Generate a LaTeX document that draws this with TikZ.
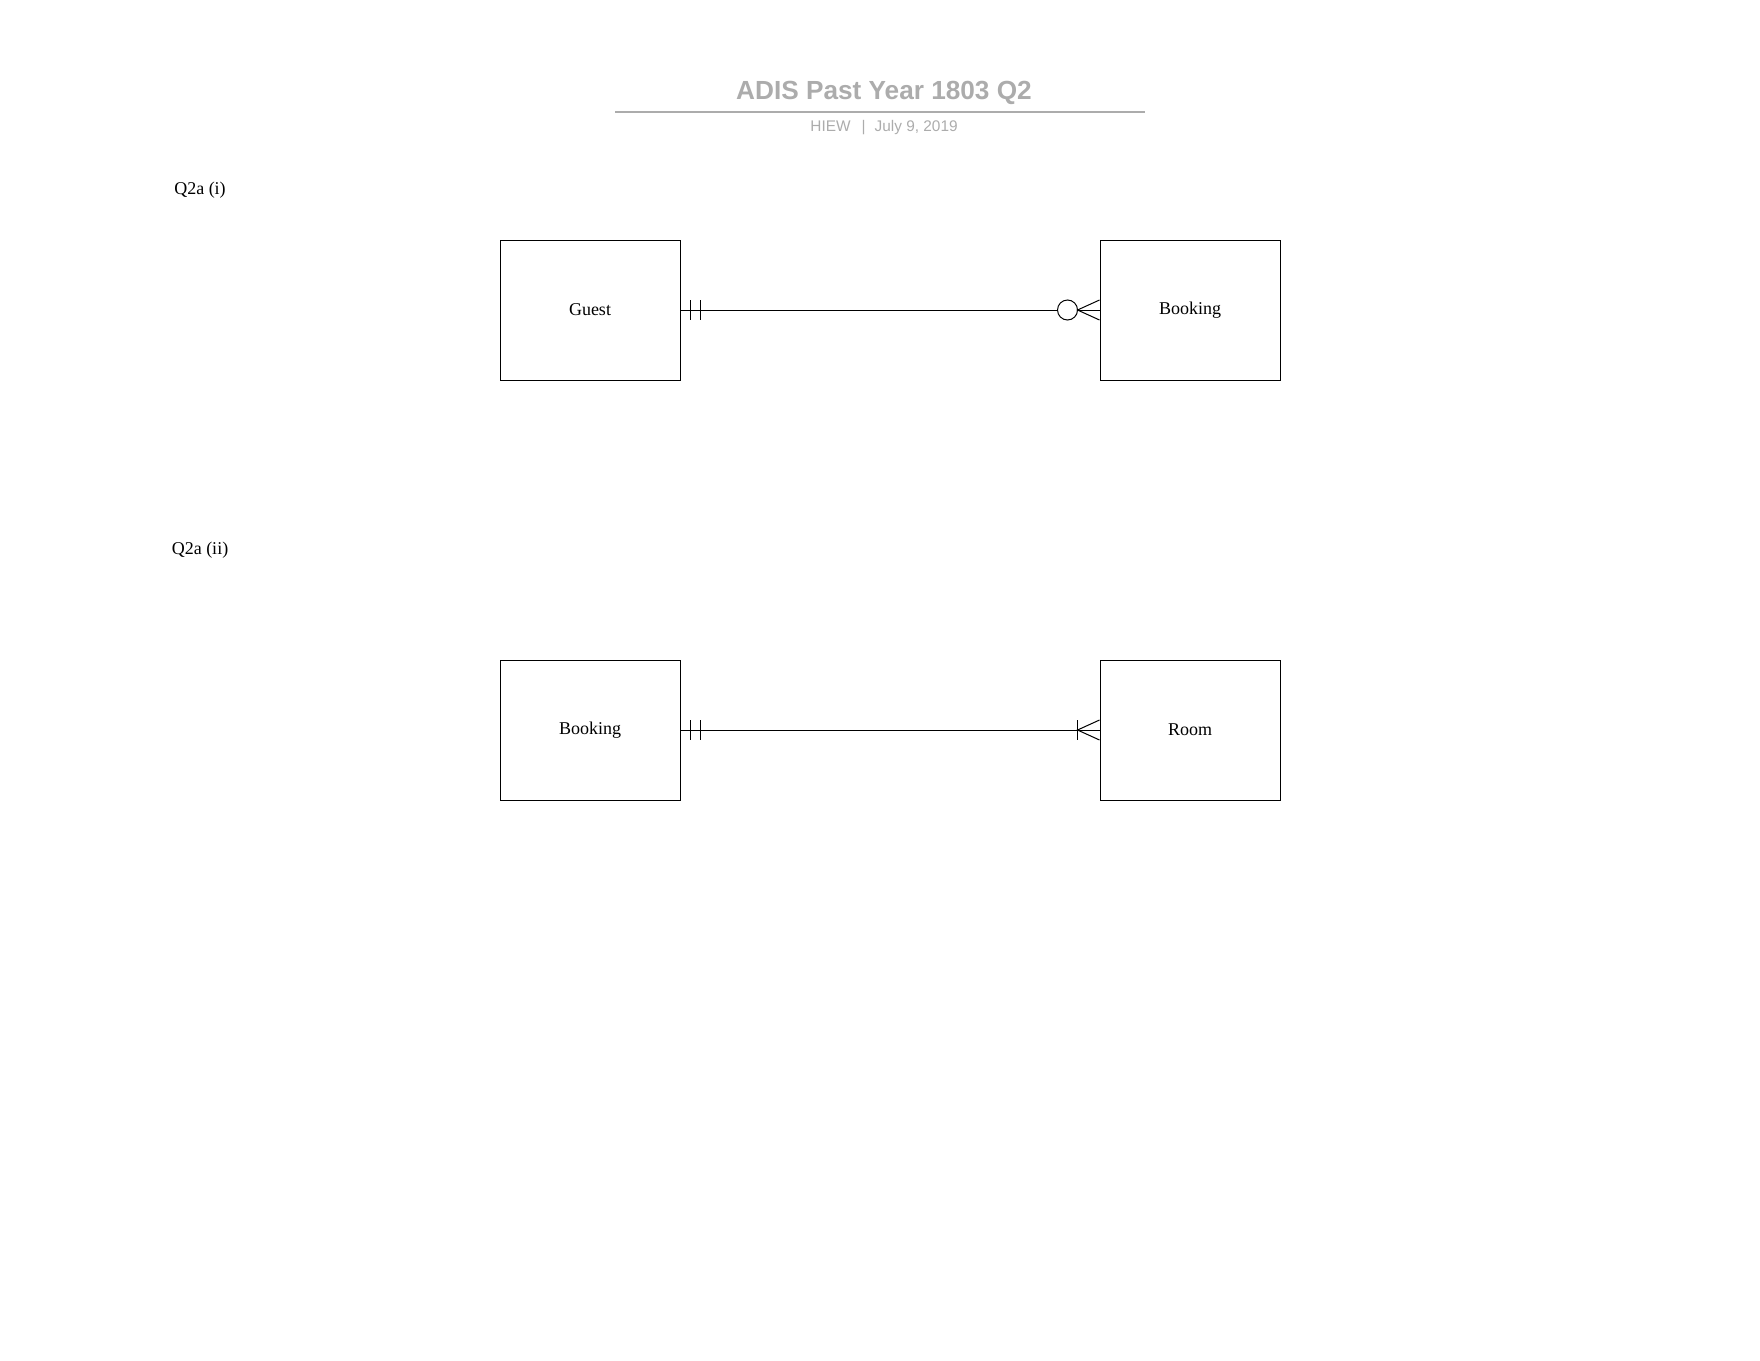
\documentclass[tikz,border=0pt]{standalone}
\usepackage{fontspec}
\setmainfont{Liberation Serif}
\newfontfamily\headfont{Liberation Sans}
\usetikzlibrary{positioning}
\definecolor{headgray}{RGB}{172,172,172}

\begin{document}
\begin{tikzpicture}[x=0.5pt,y=-0.5pt,node distance=300pt,
  every node/.style={font=\fontsize{9}{11}\selectfont},
  entity/.style={draw,rectangle,minimum width=90pt,minimum height=70pt,inner sep=0pt,line width=0.5pt},
  rel/.style={line width=0.5pt}]
  \useasboundingbox (0,0) rectangle (1760,1360);

  \node (title) at (884,93)[font=\headfont\bfseries\fontsize{13.1}{15}\selectfont,text=headgray]{ADIS Past Year 1803 Q2};
  \coordinate (ruleL) at (615,112);
  \coordinate (ruleR) at (1145,112);
  \draw[headgray,line width=0.8pt](ruleL)--(ruleR);
  \node (sub) at (884,127.5)[font=\headfont\fontsize{7.7}{9}\selectfont,text=headgray]{HIEW\hspace{5.5pt}|\hspace{4.5pt}July 9, 2019};

  \node (qi) at (200,190.5){Q2a (i)};
  \node (qii) at (200,550.5){Q2a (ii)};

  \node[entity] (guest) at (590,310){Guest};
  \node[entity,right of=guest] (booking){Booking};
  \node[entity] (booking2) at (590,730){Booking};
  \node[entity,right of=booking2] (room){Room};

  \draw[rel](guest.east)--([xshift=-21pt]booking.west);
  \draw[rel]([xshift=5pt,yshift=5pt]guest.east)--([xshift=5pt,yshift=-5pt]guest.east);
  \draw[rel]([xshift=10pt,yshift=5pt]guest.east)--([xshift=10pt,yshift=-5pt]guest.east);
  \draw[rel]([xshift=-16pt]booking.west) circle[radius=5pt];
  \draw[rel]([yshift=5pt]booking.west)--([xshift=-11pt]booking.west)--([yshift=-5pt]booking.west);
  \draw[rel]([xshift=-11pt]booking.west)--(booking.west);

  \draw[rel](booking2.east)--(room.west);
  \draw[rel]([xshift=5pt,yshift=5pt]booking2.east)--([xshift=5pt,yshift=-5pt]booking2.east);
  \draw[rel]([xshift=10pt,yshift=5pt]booking2.east)--([xshift=10pt,yshift=-5pt]booking2.east);
  \draw[rel]([xshift=-11pt,yshift=5pt]room.west)--([xshift=-11pt,yshift=-5pt]room.west);
  \draw[rel]([yshift=5pt]room.west)--([xshift=-11pt]room.west)--([yshift=-5pt]room.west);
\end{tikzpicture}
\end{document}
